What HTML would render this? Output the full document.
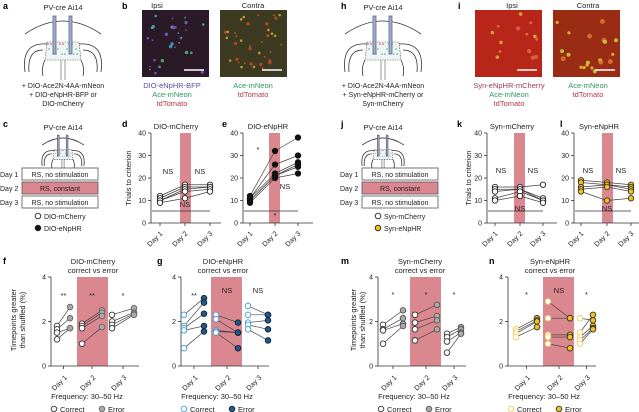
<!DOCTYPE html>
<html><head><meta charset="utf-8"><style>
html,body{margin:0;padding:0;background:#fff}
svg{display:block;font-family:"Liberation Sans",sans-serif}
</style></head><body>
<svg id="s" width="639" height="412" viewBox="0 0 639 412" xmlns="http://www.w3.org/2000/svg"></svg>
<script>
const S=document.getElementById('s');let h='';
const PINK='#db8790';
function T(x,y,t,o){o=o||{};h+=`<text x="${x}" y="${y}" font-size="${o.s||7.5}" fill="${o.c||'#222'}" text-anchor="${o.a||'middle'}" font-weight="${o.w||'normal'}"${o.r?` transform="rotate(${o.r} ${x} ${y})"`:''}>${t}</text>`;}
function L(x1,y1,x2,y2,c,w){h+=`<line x1="${x1}" y1="${y1}" x2="${x2}" y2="${y2}" stroke="${c||'#333'}" stroke-width="${w||0.8}"/>`;}
function C(x,y,f,st,r){h+=`<circle cx="${x}" cy="${y}" r="${r||3}" fill="${f}" stroke="${st||'#222'}" stroke-width="0.9"/>`;}
function R(x,y,w,hh,f,st){h+=`<rect x="${x}" y="${y}" width="${w}" height="${hh}" fill="${f}" ${st?`stroke="${st}" stroke-width="0.8"`:''}/>`;}
[['a',3,9],['b',122,9],['c',3,127],['d',122,127],['e',222,127],['f',3,264],['g',157,264],['h',341,9],['i',458,9],['j',341,127],['k',457,127],['l',560,127],['m',341,264],['n',489,264]].forEach(p=>T(p[1],p[2],p[0],{s:9,w:'bold',a:'start',c:'#000'}));
function brain(cx,y0,sc){
 const s=sc;
 h+=`<path d="M${cx-38*s} ${y0+22*s} Q${cx} ${y0-4*s} ${cx+38*s} ${y0+22*s}" fill="none" stroke="#333" stroke-width="0.8"/>`;
 h+=`<path d="M${cx-16*s} ${y0+30*s} L${cx+16*s} ${y0+30*s} L${cx+18*s} ${y0+48*s} L${cx-18*s} ${y0+48*s}Z" fill="#eef3f3" stroke="#555" stroke-width="0.6" stroke-dasharray="1.5 1"/>`;
 h+=`<path d="M${cx-16*s} ${y0+32*s} Q${cx-42*s} ${y0+30*s} ${cx-38*s} ${y0+60*s} M${cx-20*s} ${y0+38*s} Q${cx-36*s} ${y0+38*s} ${cx-34*s} ${y0+60*s} M${cx+16*s} ${y0+32*s} Q${cx+42*s} ${y0+30*s} ${cx+38*s} ${y0+60*s} M${cx+20*s} ${y0+38*s} Q${cx+36*s} ${y0+38*s} ${cx+34*s} ${y0+60*s} M${cx-18*s} ${y0+48*s} Q${cx-22*s} ${y0+56*s} ${cx-20*s} ${y0+64*s} M${cx+18*s} ${y0+48*s} Q${cx+22*s} ${y0+56*s} ${cx+20*s} ${y0+64*s}" fill="none" stroke="#333" stroke-width="0.8"/>`;
 L(cx-2*s,y0+48*s,cx-2*s,y0+68*s,'#555',0.6);L(cx+2*s,y0+48*s,cx+2*s,y0+68*s,'#555',0.6);
 for(let i=0;i<18;i++){const x=cx-15*s+((i*7)%30)*s,y=y0+32*s+((i*5)%15)*s;C(x,y,i%3?'#5aa':'#c44','none',0.8*s);}
 R(cx-10*s,y0+4*s,3*s,38*s,'#9bb0d4','#667');R(cx+6*s,y0+4*s,3*s,38*s,'#9bb0d4','#667');
}
brain(63,12,1); brain(383,12,1);
brain(63,133,0.55);brain(383,133,0.55);
T(63,10,'PV-cre Ai14');T(383,10,'PV-cre Ai14');T(63,130,'PV-cre Ai14');T(383,130,'PV-cre Ai14');
T(63,88,'+ DIO-Ace2N-4AA-mNeon',{s:7});T(63,97,'+ DIO-eNpHR-BFP or',{s:7});T(63,106,'DIO-mCherry',{s:7});
T(383,88,'+ DIO-Ace2N-4AA-mNeon',{s:7});T(383,97,'+ Syn-eNpHR-mCherry or',{s:7});T(383,106,'Syn-mCherry',{s:7});
function img(x,y,bg,cols,seed,n,rr){R(x,y,67,67,bg);let r=seed;for(let i=0;i<n;i++){r=(r*9301+49297)%233280;const px=x+3+(r/233280)*61;r=(r*9301+49297)%233280;const py=y+3+(r/233280)*61;h+=`<circle cx="${px}" cy="${py}" r="${rr+(i%3)*0.4}" fill="${cols[i%cols.length]}" opacity="0.8"/>`;}L(x+42,y+60,x+62,y+60,'#fff',1.5);}
T(157,8,'Ipsi');T(253,8,'Contra');T(512,8,'Ipsi');T(588,8,'Contra');
img(142,10,'#2a1a28',['#6d6ad8','#56c28a','#3fb8c8','#8a4fd0'],7,30,0.9);
img(220,10,'#3c3a20',['#d8602a','#d8b030','#c84a2a'],11,38,0.9);
img(475,10,'#b8261a',['#e88040','#d8c040','#e06a40'],3,14,1.4);
img(553,10,'#9a2c16',['#e8d030','#c8e040','#e08030'],5,20,1.6);
T(172,88,'DIO-eNpHR-BFP',{c:'#5a4ca8'});T(172,97,'Ace-mNeon',{c:'#2a9a5a'});T(172,106,'tdTomato',{c:'#b03a4a'});
T(253,88,'Ace-mNeon',{c:'#2a9a5a'});T(253,97,'tdTomato',{c:'#b03a4a'});
T(509,88,'Syn-eNpHR-mCherry',{c:'#a03a5a'});T(509,97,'Ace-mNeon',{c:'#2a9a5a'});T(509,106,'tdTomato',{c:'#b03a4a'});
T(588,88,'Ace-mNeon',{c:'#2a9a5a'});T(588,97,'tdTomato',{c:'#b03a4a'});
function boxes(x0,lx,leg1,leg2,f2){
 [['Day 1','RS, no stimulation','#fff'],['Day 2','RS, constant',PINK],['Day 3','RS, no stimulation','#fff']].forEach((d,i)=>{const y=168+i*14;T(lx,y+9,d[0],{a:'start',s:7});R(x0,y,76,12,d[2],'#555');T(x0+38,y+9,d[1],{s:7});});
 C(x0+16,216,'#fff','#222',2.8);T(x0+22,219,leg1,{a:'start',s:7});C(x0+16,228,f2,'#222',2.8);T(x0+22,231,leg2,{a:'start',s:7});
}
boxes(22,0,'DIO-mCherry','DIO-eNpHR','#111');boxes(362,340,'Syn-mCherry','Syn-eNpHR','#f2c21b');
function trial(ax,pb,title,days,data,fill,stroke,ns){
 const y=v=>223-v*2.25;
 T(ax+25,129,title);
 R(pb,133,11,90,PINK);
 L(ax,133,ax,223);L(ax,223,ax+70,223);
 [0,10,20,30,40].forEach(v=>{L(ax-3,y(v),ax,y(v));T(ax-5,y(v)+2.5,v,{a:'end',s:7});});
 days.forEach((d,i)=>{L(d,223,d,226);T(d+3,234,'Day '+(i+1),{s:7,a:'end',r:-45});});
 L(ax+1,211,days[2],211,'#333',0.8);
 for(let k=0;k<data[0].length;k++){L(days[0],y(data[0][k]),days[1],y(data[1][k]),'#444',0.7);L(days[1],y(data[1][k]),days[2],y(data[2][k]),'#444',0.7);}
 data.forEach((a,i)=>a.forEach(v=>C(days[i],y(v),fill,stroke,2.7)));
 ns.forEach(n=>T(n[0],n[1],n[2],{s:7.5}));
}
T(131,178,'Trials to criterion',{r:-90,s:7.5});T(471,178,'Trials to criterion',{r:-90,s:7.5});
trial(151,180,'DIO-mCherry',[160,185,210],[[12,11,10,10,9],[17,16,15,14,11],[17,16,16,15,14]],'#fff','#222',[[168,174,'NS'],[200,174,'NS'],[185,207,'NS']]);
trial(243,269,'DIO-eNpHR',[250,275,298],[[12,11,11,10,10,9],[32,26,22,21,21,20],[38,30,27,26,25,22]],'#111','#111',[[258,152,'*'],[285,189,'NS'],[275,218,'*']]);
trial(487,514,'Syn-mCherry',[495,520,543],[[16,15,14,11,10],[16,15,15,14,12],[17,11,10,10,9]],'#fff','#222',[[501,173,'NS'],[533,173,'NS'],[520,211,'NS']]);
trial(574,602,'Syn-eNpHR',[581,607,631],[[19,18,16,15,14],[18,17,17,16,10],[17,16,15,14,11]],'#f2c21b','#333',[[588,173,'NS'],[621,173,'NS'],[607,211,'NS']]);
function fplot(ax,pb,t1,xs,pairs,cf,cs,ef,es,stars){
 const y=v=>366-v*22.25;
 T(ax+42,264,t1,{s:7.5});T(ax+42,273,'correct vs error',{s:7.5});
 R(pb,277,31,89,PINK);
 L(ax,277,ax,366);L(ax,366,ax+88,366);
 [0,2,4].forEach(v=>{L(ax-3,y(v),ax,y(v));T(ax-5,y(v)+2.5,v,{a:'end',s:7});});
 for(let i=0;i<3;i++){const xc=(xs[i][0]+xs[i][1])/2;L(xc,366,xc,369);T(xc+4,378,'Day '+(i+1),{s:7,a:'end',r:-45});
  pairs[i].forEach(p=>{L(xs[i][0],y(p[0]),xs[i][1],y(p[1]),'#444',0.7);C(xs[i][0],y(p[0]),cf,cs,2.8);C(xs[i][1],y(p[1]),ef,es,2.8);});
  T(xc,stars[i][1],stars[i][0],{s:7.5});}
 T(ax+36,399,'Frequency: 30–50 Hz',{s:7.5});
 C(ax+3,409,cf,cs,2.8);T(ax+9,412,'Correct',{a:'start',s:7.5});C(ax+51,409,ef,es,2.8);T(ax+57,412,'Error',{a:'start',s:7.5});
}
T(16,320,'Timepoints greater',{r:-90,s:7.5});T(25,320,'than shuffled (%)',{r:-90,s:7.5});
T(356,320,'Timepoints greater',{r:-90,s:7.5});T(365,320,'than shuffled (%)',{r:-90,s:7.5});
fplot(51,77,'DIO-mCherry',[[57,70],[82,102],[112,134]],
 [[[1.8,2.65],[1.65,2.15],[1.5,1.7],[1.2,1.7]],[[1.9,2.5],[1.8,2.4],[1.7,2.25],[1.0,1.75]],[[2.3,2.6],[2.0,2.4],[1.85,2.35],[1.7,2.3]]],
 '#fff','#333','#aaa','#666',[['**',298],['**',298],['*',298]]);
fplot(181,211,'DIO-eNpHR',[[184,204],[216,238],[248,268]],
 [[[2.3,3.05],[1.8,2.85],[1.7,2.35],[1.6,1.8],[0.8,1.55]],[[2.3,1.95],[2.1,1.5],[1.6,1.5],[1.55,1.5],[1.5,0.8]],[[2.7,2.3],[2.3,2.3],[1.95,2.05],[1.85,1.65],[1.65,1.15]]],
 '#fff','#4a9bd0','#1e5a8c','#123',[['**',298],['NS',293],['NS',293]]);
fplot(378,410,'Syn-mCherry',[[383,403],[415,437],[447,461]],
 [[[1.85,2.5],[1.65,2.15],[1.6,1.9],[1.0,1.8]],[[2.3,2.75],[1.95,2.25],[1.65,2.05],[1.15,1.65]],[[1.45,1.75],[1.3,1.65],[1.1,1.5],[0.6,1.45]]],
 '#fff','#333','#aaa','#555',[['*',297],['*',297],['*',297]]);
fplot(508,543,'Syn-eNpHR',[[516,537],[548,570],[580,593]],
 [[[1.65,2.15],[1.55,2.05],[1.45,2.0],[1.3,1.75]],[[2.9,2.15],[2.15,2.15],[1.4,1.4],[1.3,1.3],[1.0,0.8]],[[2.15,2.05],[1.5,2.3],[1.3,1.8],[1.15,1.7],[1.0,1.65]]],
 '#fff','#f0d060','#f2c21b','#333',[['*',297],['NS',293],['*',297]]);
S.innerHTML=h;
</script>
</body></html>
